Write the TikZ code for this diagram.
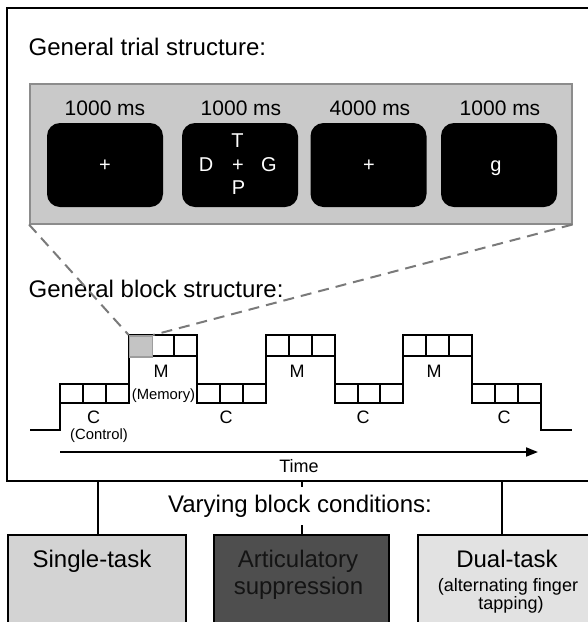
\documentclass[tikz,border=0pt]{standalone}
\usepackage{fontspec}
\setmainfont{Liberation Sans}
\usetikzlibrary{arrows.meta}
\definecolor{trialfill}{HTML}{C9C9C9}
\definecolor{trialedge}{HTML}{8C8C8C}
\definecolor{sqfill}{HTML}{C4C4C4}
\definecolor{dashgray}{HTML}{7A7A7A}
\definecolor{condA}{HTML}{D3D3D3}
\definecolor{condB}{HTML}{4E4E4E}
\definecolor{condC}{HTML}{E2E2E2}
\begin{document}
\begin{tikzpicture}[x=1pt,y=-1pt,
  bigtext/.style={font=\fontsize{24}{28}\selectfont, inner sep=0pt},
  durtext/.style={font=\fontsize{21}{24}\selectfont, inner sep=0pt, anchor=base},
  screen/.style={fill=black, rounded corners=13pt, minimum width=116pt, minimum height=84pt, inner sep=0pt},
  glyph/.style={inner sep=0pt, text=white, font=\fontsize{20}{24}\selectfont},
  stair/.style={line width=2pt, line join=miter},
  blabel/.style={font=\fontsize{18}{20}\selectfont, inner sep=0pt, anchor=base},
  slabel/.style={font=\fontsize{14.8}{16}\selectfont, inner sep=0pt, anchor=base},
  zoomline/.style={dashgray, line width=2pt, dash pattern=on 11pt off 7pt},
  conn/.style={line width=2pt},
  condbox/.style={draw=black, line width=2pt, minimum height=120pt, inner sep=0pt, anchor=north west},
  condtext/.style={font=\fontsize{24}{28}\selectfont, inner sep=0pt, anchor=base},
  condsmall/.style={font=\fontsize{18}{20}\selectfont, inner sep=0pt, anchor=base}
]
\useasboundingbox (0,0) rectangle (588,622);
\clip (0,0) rectangle (588,622);
\fill[white] (0,0) rectangle (588,622);

% outer frame
\node[draw=black, line width=2.2pt, minimum width=614pt, minimum height=473pt, inner sep=0pt, anchor=north west] (frame) at (6,6.5) {};

% trial structure
\node[bigtext, anchor=base west] (ttitle) at (28.5,55.5) {General trial structure:};
\node[fill=trialfill, draw=trialedge, line width=1.5pt, minimum width=542pt, minimum height=140pt, inner sep=0pt, anchor=north west] (trial) at (29,83) {};

\node[durtext] (d1) at (105,115.5) {1000 ms};
\node[durtext] (d2) at (241,115.5) {1000 ms};
\node[durtext] (d3) at (370,115.5) {4000 ms};
\node[durtext] (d4) at (500,115.5) {1000 ms};

\node[screen] (s1) at (105,165) {};
\node[screen] (s2) at (240,165) {};
\node[screen] (s3) at (368.5,165) {};
\node[screen] (s4) at (499,165) {};

\node[glyph] (p1) at (105,166) {+};
\node[glyph] (p3) at (369,166) {+};
\node[glyph] (g4) at (496,168) {g};
\node[glyph] (lt) at (237.5,141) {T};
\node[glyph] (ld) at (206,165) {D};
\node[glyph] (lp) at (238,165.5) {+};
\node[glyph] (lg) at (269,165) {G};
\node[glyph] (lb) at (238.5,188) {P};

% block structure
\node[bigtext, anchor=base west] (btitle) at (28.5,297) {General block structure:};

\draw[stair] (30,430) -- (60,430) -- (60,384) -- (128.67,384) -- (128.67,335)
  -- (197.33,335) -- (197.33,384) -- (266,384) -- (266,335) -- (334.67,335)
  -- (334.67,384) -- (403.33,384) -- (403.33,335) -- (472,335) -- (472,384)
  -- (540.67,384) -- (540.67,430) -- (572,430);
\foreach \xs in {60,197.33,334.67,472}{
  \foreach \k in {0,1,2}{
    \draw[stair] (\xs+\k*22.889,384) rectangle ++(22.889,19);
  }
}
\foreach \xs in {128.67,266,403.33}{
  \foreach \k in {0,1,2}{
    \draw[stair] (\xs+\k*22.889,335) rectangle ++(22.889,21);
  }
}
\node[fill=sqfill, draw=sqfill!80!black, line width=1.5pt, minimum width=22.9pt, minimum height=21pt, inner sep=0pt, anchor=north west] (sq) at (128.67,335) {};

\draw[zoomline] (trial.south west) -- (sq.north west);
\draw[zoomline] (trial.south east) -- (sq.north east);

\node[blabel] (m1) at (161,377) {M};
\node[blabel] (m2) at (297,377) {M};
\node[blabel] (m3) at (434,377) {M};
\node[slabel] (mem) at (163.5,399) {(Memory)};
\node[blabel] (c1) at (93.5,423) {C};
\node[blabel] (c2) at (226,423) {C};
\node[blabel] (c3) at (363,423) {C};
\node[blabel] (c4) at (504,423) {C};
\node[slabel] (ctl) at (99,439) {(Control)};

\coordinate (t0) at (60,452);
\coordinate (t1) at (538,452);
\draw[line width=1.8pt, -{Triangle[length=12pt,width=9pt]}] (t0) -- (t1);
\node[font=\fontsize{18}{20}\selectfont, inner sep=0pt, anchor=base] (time) at (299,472) {Time};

% conditions
\node[condbox, fill=condA, minimum width=177.5pt] (b1) at (7,534) {};
\node[condbox, fill=condB, minimum width=175pt] (b2) at (213,534) {};
\node[condbox, fill=condC, minimum width=200pt] (b3) at (417,534) {};

\coordinate (k1) at (97.5,534);
\coordinate (k3) at (502,534);
\draw[conn] (k1 |- frame.south) -- (k1);
\draw[conn] (k3 |- frame.south) -- (k3);
\draw[conn] (b2.north |- frame.south) -- (b2.north);
\node[condtext, fill=white, inner xsep=6pt, inner ysep=8pt] (vary) at (300,512.5) {Varying block conditions:};

\node[condtext] (n1) at (92,567) {Single-task};
\node[condtext, text=black!92] (n2a) at (298,567) {Articulatory};
\node[condtext, text=black!92] (n2b) at (298.5,594) {suppression};
\node[condtext] (n3a) at (507,567) {Dual-task};
\node[condsmall] (n3b) at (508,591) {(alternating finger};
\node[condsmall] (n3c) at (511,609) {tapping)};
\end{tikzpicture}
\end{document}
